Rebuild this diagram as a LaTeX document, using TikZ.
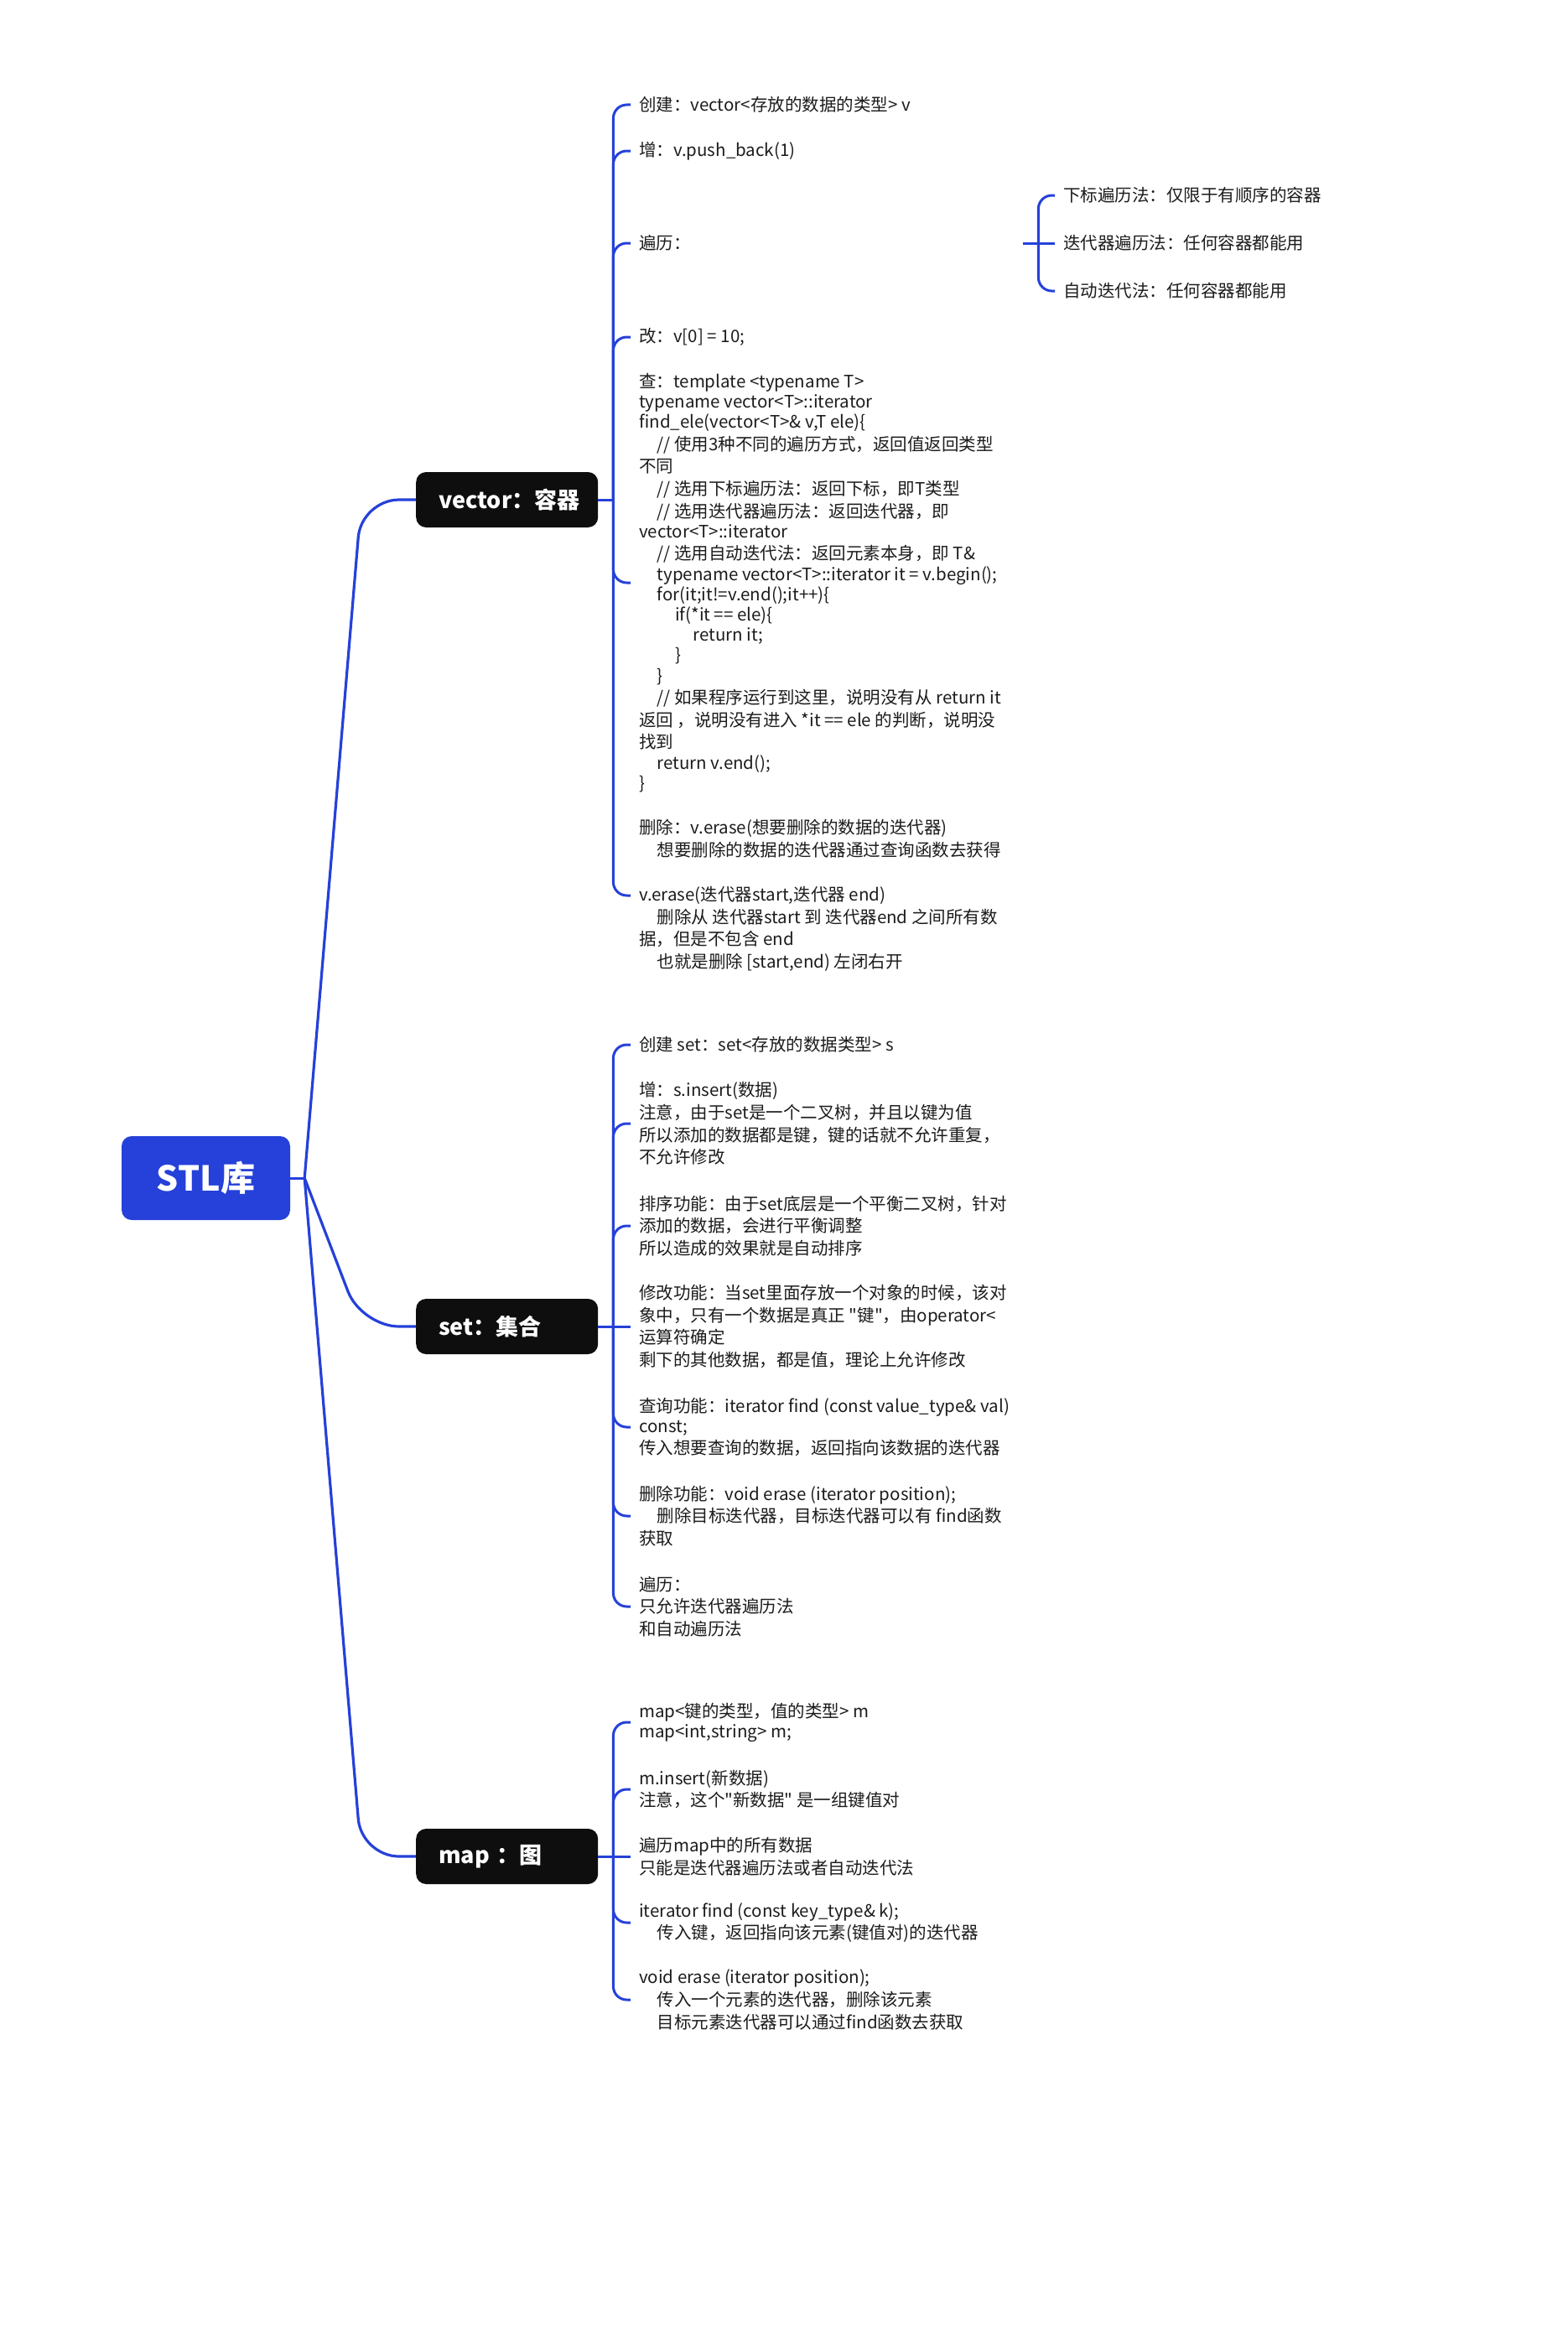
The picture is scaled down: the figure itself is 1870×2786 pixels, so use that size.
\documentclass[tikz,border=0pt]{standalone}
\usepackage{fontspec}
\setmainfont{Noto Sans CJK SC}
\newfontfamily\qf{Noto Sans CJK SC}
\newcommand{\dq}{{\qf"}}
\definecolor{lineblue}{HTML}{2541D9}
\definecolor{nodeblack}{HTML}{0E0E0E}
\definecolor{txt}{HTML}{1C1C1C}
\newcommand{\nc}{\\[2.4pt]}
\newcommand{\ind}{\hspace*{21.5pt}}
\tikzset{
  rootbox/.style={fill=lineblue, rounded corners=12pt, minimum width=201pt, minimum height=100pt, text=white, font=\fontsize{41}{41}\selectfont\bfseries, inner sep=0pt},
  topic/.style={fill=nodeblack, rounded corners=12pt, text width=163pt, inner xsep=27pt, inner ysep=0pt, minimum height=66pt, text=white, font=\fontsize{27}{27}\selectfont\bfseries, align=left, anchor=west},
  leaf/.style={anchor=west, align=left, inner xsep=10pt, inner ysep=0pt, text=txt, font=\fontsize{20.5}{24.2}\selectfont},
  conn/.style={draw=lineblue, line width=3pt},
  brk/.style={draw=lineblue, line width=3pt, rounded corners=16pt},
  mainbr/.style={draw=lineblue, line width=3.2pt, rounded corners=45pt},
}
\begin{document}
\begin{tikzpicture}[x=1pt,y=-1pt]
\path[fill=white] (0,0) rectangle (1870,2786);
\useasboundingbox (0,0) rectangle (1870,2786);

% root and topics
\node[rootbox] (root) at (245.5,1405) {STL库};
\node[topic] (vec) at (496,596) {vector：容器};
\node[topic] (set) at (496,1582) {set：集合};
\node[topic] (map) at (496,2214) {map ：图};

\coordinate (hub) at ([xshift=17pt]root.east);
\draw[conn] (root.east) -- (hub);
\draw[mainbr] (hub) -- ([xshift=-65pt]vec.west) -- (vec.west);
\draw[mainbr] (hub) -- ([xshift=-65pt]set.west) -- (set.west);
\draw[mainbr] (hub) -- ([xshift=-65pt]map.west) -- (map.west);

% vector children
\node[leaf] (t1) at (752,125) {创建：vector<存放的数据的类型> v};
\node[leaf] (t2) at (752,180) {增：v.push\_back(1)};
\node[leaf, text width=448pt] (t3) at (752,290) {遍历：};
\node[leaf] (t4) at (752,402) {改：v[0] = 10;};
\node[leaf] (t5) at (752,695) {查：template <typename T>\\
typename vector<T>::iterator\\
find\_ele(vector<T>\& v,T ele)\{\nc
\ind // 使用3种不同的遍历方式，返回值返回类型\nc
不同\nc
\ind // 选用下标遍历法：返回下标，即T类型\nc
\ind // 选用迭代器遍历法：返回迭代器，即\\
vector<T>::iterator\nc
\ind // 选用自动迭代法：返回元素本身，即 T\&\\
\ind typename vector<T>::iterator it = v.begin();\\
\ind for(it;it!=v.end();it++)\{\\
\ind\ind if(*it == ele)\{\\
\ind\ind\ind return it;\\
\ind\ind \}\\
\ind \}\nc
\ind // 如果程序运行到这里，说明没有从 return it\nc
返回 ，说明没有进入 *it == ele 的判断，说明没\nc
找到\\
\ind return v.end();\\
\}};
\node[leaf] (t6) at (752,1068) {删除：v.erase(想要删除的数据的迭代器)\nc
\ind 想要删除的数据的迭代器通过查询函数去获得\\[28.8pt]
v.erase(迭代器start,迭代器 end)\nc
\ind 删除从 迭代器start 到 迭代器end 之间所有数\nc
据，但是不包含 end\nc
\ind 也就是删除 [start,end) 左闭右开};

\coordinate (vs) at ([xshift=18pt]vec.east);
\draw[conn] (vec.east) -- (vs);
\foreach \c in {t1,t2,t3,t4,t5,t6} \draw[brk] (vs) |- (\c.west);

% traversal sub-children
\node[leaf] (s1) at (1258,233) {下标遍历法：仅限于有顺序的容器};
\node[leaf] (s2) at (1258,290) {迭代器遍历法：任何容器都能用};
\node[leaf] (s3) at (1258,347) {自动迭代法：任何容器都能用};
\coordinate (ts) at ([xshift=18pt]t3.east);
\draw[conn] (t3.east) -- (s2.west);
\draw[brk] (ts) |- (s1.west);
\draw[brk] (ts) |- (s3.west);

% set children
\node[leaf] (u1) at (752,1246) {创建 set：set<存放的数据类型> s};
\node[leaf] (u2) at (752,1340) {增：s.insert(数据)\nc
注意，由于set是一个二叉树，并且以键为值\nc
所以添加的数据都是键，键的话就不允许重复，\nc
不允许修改};
\node[leaf] (u3) at (752,1462) {排序功能：由于set底层是一个平衡二叉树，针对\nc
添加的数据，会进行平衡调整\nc
所以造成的效果就是自动排序};
\node[leaf] (u4) at (752,1582) {修改功能：当set里面存放一个对象的时候，该对\nc
象中，只有一个数据是真正 \dq 键\dq ，由operator<\nc
运算符确定\nc
剩下的其他数据，都是值，理论上允许修改};
\node[leaf] (u5) at (752,1702) {查询功能：iterator find (const value\_type\& val)\\
const;\nc
传入想要查询的数据，返回指向该数据的迭代器};
\node[leaf] (u6) at (752,1808) {删除功能：void erase (iterator position);\nc
\ind 删除目标迭代器，目标迭代器可以有 find函数\nc
获取};
\node[leaf] (u7) at (752,1916) {遍历：\nc
只允许迭代器遍历法\nc
和自动遍历法};

\coordinate (ss) at ([xshift=18pt]set.east);
\draw[conn] (set.east) -- (u4.west);
\foreach \c in {u1,u2,u3,u5,u6,u7} \draw[brk] (ss) |- (\c.west);

% map children
\node[leaf] (m1) at (752,2054) {map<键的类型，值的类型> m\\
map<int,string> m;};
\node[leaf] (m2) at (752,2134) {m.insert(新数据)\nc
注意，这个\dq 新数据\dq{} 是一组键值对};
\node[leaf] (m3) at (752,2214) {遍历map中的所有数据\nc
只能是迭代器遍历法或者自动迭代法};
\node[leaf] (m4) at (752,2293) {iterator find (const key\_type\& k);\nc
\ind 传入键，返回指向该元素(键值对)的迭代器};
\node[leaf] (m5) at (752,2385) {void erase (iterator position);\nc
\ind 传入一个元素的迭代器，删除该元素\nc
\ind 目标元素迭代器可以通过find函数去获取};

\coordinate (ms) at ([xshift=18pt]map.east);
\draw[conn] (map.east) -- (m3.west);
\foreach \c in {m1,m2,m4,m5} \draw[brk] (ms) |- (\c.west);
\end{tikzpicture}
\end{document}
